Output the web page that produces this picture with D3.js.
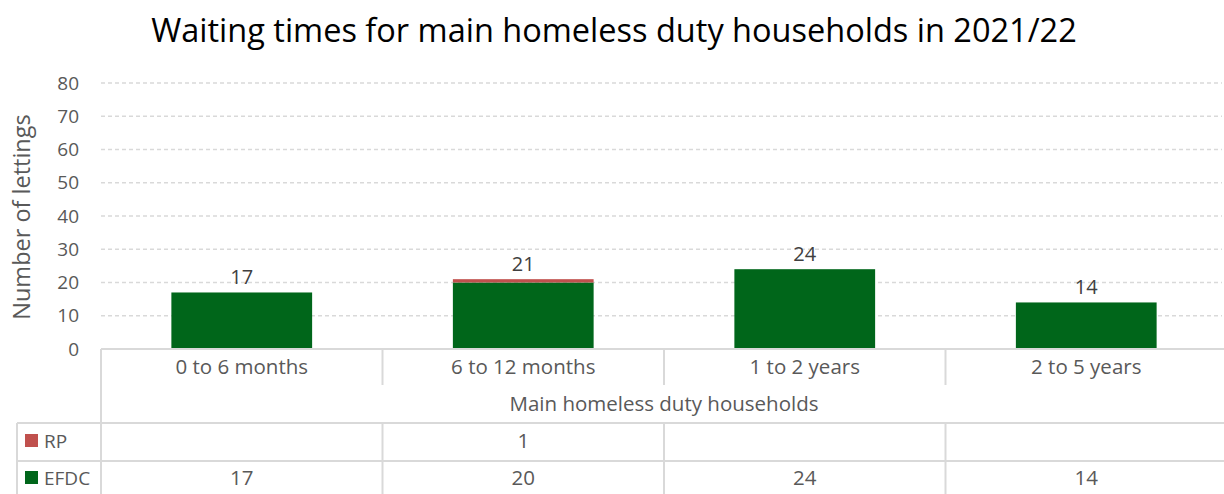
<!DOCTYPE html>
<html>
<head>
<meta charset="utf-8">
<script src="https://cdn.jsdelivr.net/npm/d3@7"></script>
<style>
  html, body { margin: 0; padding: 0; background: #fff; overflow: hidden; }
  svg text { font-family: "Open Sans", Lato, sans-serif; }
</style>
</head>
<body>
<svg id="chart" width="1224" height="494"></svg>
<script>
// Waiting-time bands and lettings per provider
const categories = ["0 to 6 months", "6 to 12 months", "1 to 2 years", "2 to 5 years"];
const groupLabel = "Main homeless duty households";
const efdcValues = [17, 20, 24, 14];
const rpValues = [null, 1, null, null];
const seriesNames = ["EFDC", "RP"];
const yTicks = [0, 10, 20, 30, 40, 50, 60, 70, 80];

const colors = { EFDC: "#00661a", RP: "#c0504d" };
const gridColor = "#d9d9d9";
const textColor = "#595959";
const fs = 20.5;

const svg = d3.select("#chart");

const plotLeft = 101, plotRight = 1227, plotTop = 83, plotBottom = 349;

const x = d3.scaleBand().domain(categories).range([plotLeft, plotRight]).paddingInner(0).paddingOuter(0);
const y = d3.scaleLinear().domain([0, 80]).range([plotBottom, plotTop]);

// Title
svg.append("text")
  .attr("x", 614).attr("y", 42)
  .attr("text-anchor", "middle")
  .attr("font-size", 32.5)
  .attr("fill", "#000")
  .text("Waiting times for main homeless duty households in 2021/22");

// Gridlines
svg.append("g").selectAll("line")
  .data(yTicks.filter(d => d > 0))
  .join("line")
  .attr("x1", plotLeft).attr("x2", 1222)
  .attr("y1", d => y(d)).attr("y2", d => y(d))
  .attr("stroke", gridColor).attr("stroke-width", 1.3)
  .attr("stroke-dasharray", "4,3");

// Y axis tick labels
const yAxis = d3.axisLeft(y).tickValues(yTicks).tickSize(0).tickPadding(0);
const yg = svg.append("g").attr("transform", `translate(79,0)`).call(yAxis);
yg.select(".domain").remove();
yg.selectAll("text")
  .attr("font-size", 19)
  .attr("fill", textColor)
  .attr("font-family", "'Open Sans', Lato, sans-serif");

// Y axis title
svg.append("text")
  .attr("transform", `translate(30,${(plotTop + plotBottom) / 2 + 1}) rotate(-90)`)
  .attr("text-anchor", "middle")
  .attr("font-size", 23.5)
  .attr("fill", textColor)
  .text("Number of lettings");

// Stacked bars
const rows = categories.map((c, i) => ({ cat: c, EFDC: efdcValues[i], RP: rpValues[i] || 0 }));
const stack = d3.stack().keys(seriesNames)(rows);
const barW = x.bandwidth() / 2;

svg.append("g").selectAll("g")
  .data(stack)
  .join("g")
  .attr("fill", d => colors[d.key])
  .selectAll("rect")
  .data(d => d)
  .join("rect")
  .attr("x", d => x(d.data.cat) + (x.bandwidth() - barW) / 2)
  .attr("width", barW)
  .attr("y", d => y(d[1]))
  .attr("height", d => y(d[0]) - y(d[1]));

// Total labels above bars
svg.append("g").selectAll("text")
  .data(rows)
  .join("text")
  .attr("x", d => x(d.cat) + x.bandwidth() / 2)
  .attr("y", d => y(d.EFDC + d.RP) - 8)
  .attr("text-anchor", "middle")
  .attr("font-size", 20)
  .attr("fill", "#404040")
  .text(d => d.EFDC + d.RP);

// Data table beneath the plot
const tbl = svg.append("g").attr("stroke", gridColor).attr("stroke-width", 2).attr("fill", "none");
const catRowBottom = 385, groupRowBottom = 423, rpRowBottom = 461, tableBottom = 494;
const legendLeft = 17;

// top border
tbl.append("line").attr("x1", plotLeft).attr("x2", plotRight).attr("y1", plotBottom).attr("y2", plotBottom);
// left border of data area
tbl.append("line").attr("x1", plotLeft).attr("x2", plotLeft).attr("y1", plotBottom).attr("y2", tableBottom);
// category separators in the category row
tbl.selectAll(".catsep")
  .data(categories.slice(1))
  .join("line")
  .attr("x1", d => x(d)).attr("x2", d => x(d))
  .attr("y1", plotBottom).attr("y2", catRowBottom);
// category separators in the data rows
tbl.selectAll(".rowsep")
  .data(categories.slice(1))
  .join("line")
  .attr("x1", d => x(d)).attr("x2", d => x(d))
  .attr("y1", groupRowBottom).attr("y2", tableBottom);
// horizontal row lines
[groupRowBottom, rpRowBottom].forEach(yy => {
  tbl.append("line").attr("x1", legendLeft).attr("x2", plotRight).attr("y1", yy).attr("y2", yy);
});
// legend column left border
tbl.append("line").attr("x1", legendLeft).attr("x2", legendLeft).attr("y1", groupRowBottom).attr("y2", tableBottom);

// Category labels
svg.append("g").selectAll("text")
  .data(categories)
  .join("text")
  .attr("x", d => x(d) + x.bandwidth() / 2)
  .attr("y", 374)
  .attr("text-anchor", "middle")
  .attr("font-size", fs)
  .attr("fill", textColor)
  .text(d => d);

// Group label
svg.append("text")
  .attr("x", (plotLeft + 1227) / 2)
  .attr("y", 411)
  .attr("text-anchor", "middle")
  .attr("font-size", fs)
  .attr("fill", textColor)
  .text(groupLabel);

// Table rows with legend keys
const tableRows = [
  { name: "RP", values: rpValues, yText: 448 },
  { name: "EFDC", values: efdcValues, yText: 485 }
];
const tr = svg.append("g").selectAll("g").data(tableRows).join("g");
tr.append("rect")
  .attr("x", 25).attr("y", d => d.yText - 14)
  .attr("width", 13).attr("height", 13)
  .attr("fill", d => colors[d.name]);
tr.append("text")
  .attr("x", 44).attr("y", d => d.yText)
  .attr("font-size", 19)
  .attr("fill", textColor)
  .text(d => d.name);
tr.selectAll(".val")
  .data(d => d.values.map((v, i) => ({ v, cat: categories[i], yText: d.yText })))
  .join("text")
  .attr("x", d => x(d.cat) + x.bandwidth() / 2)
  .attr("y", d => d.yText)
  .attr("text-anchor", "middle")
  .attr("font-size", fs)
  .attr("fill", textColor)
  .text(d => d.v == null ? "" : d.v);
</script>
</body>
</html>
